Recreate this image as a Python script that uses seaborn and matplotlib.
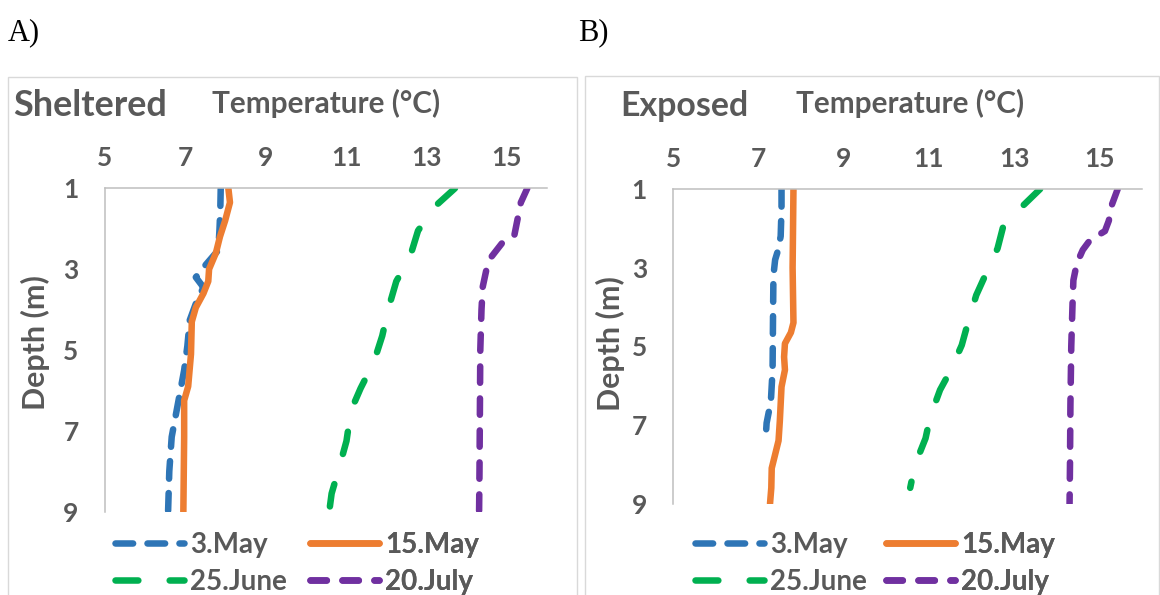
import numpy as np
import pandas as pd
import seaborn as sns
import matplotlib
matplotlib.use("Agg")
import matplotlib.pyplot as plt
from matplotlib.lines import Line2D
from matplotlib.patches import Rectangle

# ---------------- data ----------------
dates = ["3.May", "15.May", "25.June", "20.July"]
x_ticks = [5, 7, 9, 11, 13, 15]
y_ticks = [1, 3, 5, 7, 9]

# Sheltered
sh_may3_depth = [1, 1.5, 2.0, 2.53, 2.9, 3.2, 3.45, 3.8, 4.26, 4.9, 5.5, 6.3, 7.15, 8.0, 9.0]
sh_may3_temp = [7.88, 7.87, 7.85, 7.82, 7.50, 7.26, 7.45, 7.28, 7.11, 7.05, 6.97, 6.82, 6.66, 6.60, 6.57]
sh_may15_depth = [1, 1.35, 1.8, 2.2, 2.6, 3.0, 3.3, 3.6, 3.95, 4.3, 5.1, 5.9, 6.25, 7.15, 9.0]
sh_may15_temp = [8.07, 8.11, 7.99, 7.86, 7.76, 7.59, 7.57, 7.45, 7.26, 7.16, 7.14, 7.07, 6.97, 6.97, 6.95]
sh_jun25_depth = [1, 1.45, 2.05, 2.7, 3.3, 3.95, 4.65, 5.3, 5.95, 6.5, 7.25, 7.9, 8.55, 9.0]
sh_jun25_temp = [13.71, 13.21, 12.79, 12.59, 12.25, 12.06, 11.90, 11.69, 11.36, 11.12, 11.01, 10.83, 10.64, 10.58]
sh_jul20_depth = [1, 1.35, 1.8, 2.15, 2.32, 2.69, 3.02, 3.44, 4.0, 5.0, 6.5, 8.0, 9.0]
sh_jul20_temp = [15.51, 15.35, 15.26, 15.19, 14.91, 14.62, 14.49, 14.40, 14.37, 14.34, 14.33, 14.32, 14.31]

# Exposed
ex_may3_depth = [1, 1.5, 2.2, 2.55, 2.8, 3.2, 4.3, 5.6, 6.4, 6.95, 7.3]
ex_may3_temp = [7.54, 7.54, 7.52, 7.46, 7.39, 7.35, 7.34, 7.33, 7.29, 7.19, 7.17]
ex_may15_depth = [1, 2.0, 3.0, 4.4, 4.65, 4.93, 5.27, 5.6, 6.03, 6.9, 7.4, 7.75, 8.1, 8.6, 9.0]
ex_may15_temp = [7.82, 7.81, 7.80, 7.82, 7.76, 7.62, 7.60, 7.62, 7.54, 7.50, 7.47, 7.39, 7.31, 7.30, 7.27]
ex_jun25_depth = [1, 1.41, 1.92, 2.51, 3.15, 3.7, 4.38, 4.97, 5.61, 6.11, 6.79, 7.34, 8.02, 8.6]
ex_jun25_temp = [13.61, 13.22, 12.75, 12.61, 12.34, 12.11, 11.92, 11.77, 11.51, 11.26, 11.03, 10.92, 10.67, 10.56]
ex_jul20_depth = [1, 1.38, 1.81, 2.07, 2.3, 2.55, 2.89, 3.32, 3.91, 5.0, 6.5, 8.0, 9.0]
ex_jul20_temp = [15.43, 15.30, 15.22, 15.13, 14.78, 14.61, 14.47, 14.39, 14.37, 14.34, 14.32, 14.31, 14.30]

panels = [
    ("A)", "Sheltered", [
        (sh_may3_depth, sh_may3_temp), (sh_may15_depth, sh_may15_temp),
        (sh_jun25_depth, sh_jun25_temp), (sh_jul20_depth, sh_jul20_temp)]),
    ("B)", "Exposed", [
        (ex_may3_depth, ex_may3_temp), (ex_may15_depth, ex_may15_temp),
        (ex_jun25_depth, ex_jun25_temp), (ex_jul20_depth, ex_jul20_temp)]),
]

def to_frame(series):
    rows = []
    for date, (d, t) in zip(dates, series):
        for dd, tt in zip(d, t):
            rows.append({"date": date, "depth": dd, "temp": tt})
    return pd.DataFrame(rows)

# ---------------- style ----------------
sns.set_theme(style="white")
plt.rcParams["font.family"] = ["Lato", "DejaVu Sans"]

colors = {"3.May": "#2E75B6", "15.May": "#ED7D31", "25.June": "#00B050", "20.July": "#7030A0"}
dash_map = {"3.May": (2.7, 2.2), "15.May": "", "25.June": (3.5, 4.8), "20.July": (2.5, 2.4)}
LW = 4.7
TXT = "#595959"
W, H = 1160, 595
TICK_FS = 19
LEG_FS = 20

fig = plt.figure(figsize=(W / 100, H / 100), dpi=100)

def fx(x):
    return x / W

def fy(y):
    return 1 - y / H

layout = [
    dict(ax=(105, 188.3, 547, 511.7), box=(8, 77, 577, 640), tag=(8, 40), title=(13, 116),
         title_w=154, xlab=(326.5, 113), xlab_w=227, ylab=(35, 343), ylab_h=134,
         leg1=(114.5, 532), leg2=(309.5, 532)),
    dict(ax=(673.3, 189, 1142, 503.6), box=(585, 76, 1159, 640), tag=(578, 40), title=(620, 116),
         title_w=128, xlab=(910, 113), xlab_w=227, ylab=(610, 344), ylab_h=134,
         leg1=(694.5, 532), leg2=(885.5, 532)),
]

fit_list = []

for (tag, title, series), L in zip(panels, layout):
    x0, y0, x1, y1 = L["ax"]
    bx0, by0, bx1, by1 = L["box"]
    fig.patches.append(Rectangle((fx(bx0), fy(by1)), fx(bx1 - bx0), (by1 - by0) / H,
                                 transform=fig.transFigure, fill=False,
                                 edgecolor="#D9D9D9", lw=1.0, zorder=0))
    ax = fig.add_axes([fx(x0), fy(y1), fx(x1 - x0), (y1 - y0) / H])
    df = to_frame(series)
    sns.lineplot(data=df, x="temp", y="depth", hue="date", style="date",
                 palette=colors, dashes=dash_map, hue_order=dates, style_order=dates,
                 orient="y", estimator=None, sort=True, lw=LW, legend=False, ax=ax,
                 dash_capstyle="round", solid_capstyle="round", solid_joinstyle="round")
    ax.set_xlim(5, 16)
    ax.set_ylim(9, 1)
    ax.set_xticks(x_ticks)
    ax.set_yticks(y_ticks)
    ax.xaxis.tick_top()
    ax.tick_params(axis="x", length=0, pad=13, labelsize=TICK_FS, labelcolor=TXT)
    ax.tick_params(axis="y", length=0, pad=19, labelsize=TICK_FS, labelcolor=TXT)
    for lab in ax.get_xticklabels() + ax.get_yticklabels():
        lab.set_fontweight("bold")
    ax.set_xlabel("")
    ax.set_ylabel("")
    for s in ["right", "bottom"]:
        ax.spines[s].set_visible(False)
    for s in ["left", "top"]:
        ax.spines[s].set_color("#BFBFBF")
        ax.spines[s].set_linewidth(1.1)
    ax.patch.set_alpha(0)

    fig.text(fx(L["tag"][0]), fy(L["tag"][1]), tag, family="Liberation Serif",
             fontsize=22, color="black", va="baseline", ha="left")
    t1 = fig.text(fx(L["title"][0]), fy(L["title"][1]), title, fontsize=26, fontweight="bold",
                  color=TXT, va="baseline", ha="left")
    t2 = fig.text(fx(L["xlab"][0]), fy(L["xlab"][1]), "Temperature (°C)", fontsize=21,
                  fontweight="bold", color=TXT, va="baseline", ha="center")
    t3 = fig.text(fx(L["ylab"][0]), fy(L["ylab"][1]), "Depth (m)", fontsize=21,
                  fontweight="bold", color=TXT, va="center", ha="center", rotation=90)
    fit_list += [(t1, L["title_w"], "w"), (t2, L["xlab_w"], "w"), (t3, L["ylab_h"], "h")]

    handles = {}
    for d in dates:
        dsh = dash_map[d]
        h = Line2D([], [], color=colors[d], lw=LW, dash_capstyle="round",
                   solid_capstyle="round")
        if dsh:
            h.set_dashes(dsh)
        handles[d] = h
    fs_px = LEG_FS * 100 / 72
    # row-wise legend (two columns placed separately)
    for cols, key in [((dates[0], dates[2]), "leg1"), ((dates[1], dates[3]), "leg2")]:
        leg = ax.legend([handles[c] for c in cols], list(cols), loc="upper left",
                        frameon=False, bbox_to_anchor=(fx(L[key][0]), fy(L[key][1])),
                        bbox_transform=fig.transFigure, borderpad=0, borderaxespad=0,
                        handlelength=69 / fs_px, handletextpad=6.5 / fs_px,
                        labelspacing=0.40, prop={"size": LEG_FS, "weight": "bold"})
        for t in leg.get_texts():
            t.set_color(TXT)
        ax.add_artist(leg)

# fit text sizes to the measured extents of the reference
fig.canvas.draw()
r = fig.canvas.get_renderer()
for t, target, mode in fit_list:
    bb = t.get_window_extent(r)
    cur = bb.width if mode == "w" else bb.height
    t.set_fontsize(t.get_fontsize() * target / cur)

fig.savefig("out.png", dpi=100)
